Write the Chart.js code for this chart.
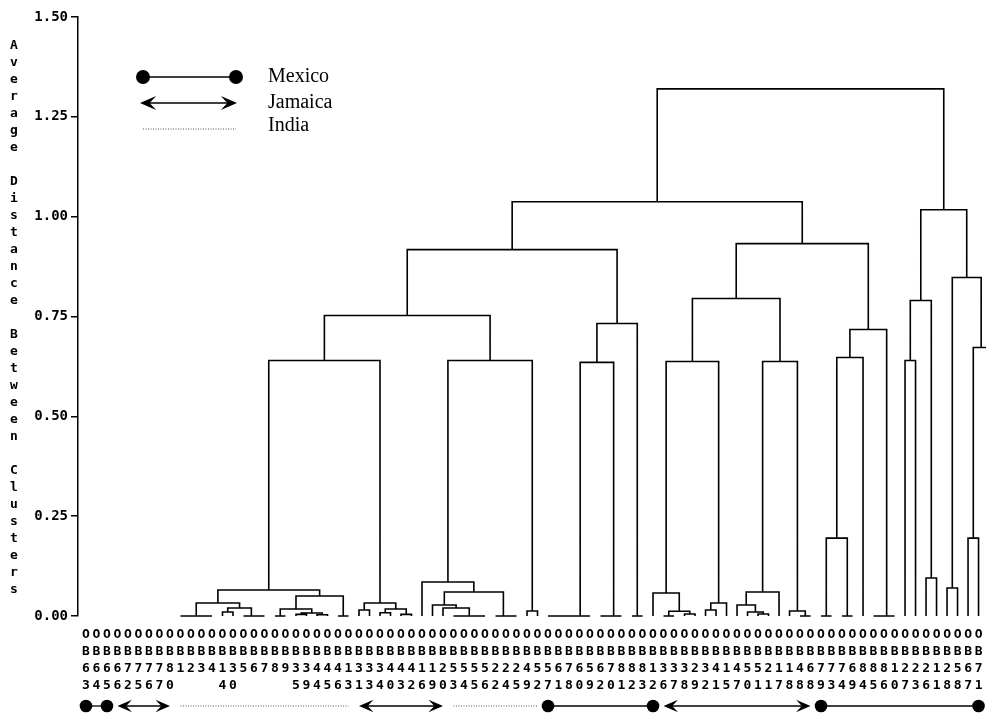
<!DOCTYPE html>
<html>
<head>
<meta charset="utf-8">
<title>Average Distance Between Clusters</title>
<script src="https://cdn.jsdelivr.net/npm/chart.js@4.4.1/dist/chart.umd.min.js"></script>
<style>
  html, body { margin: 0; padding: 0; background: #fff; overflow: hidden; }
  canvas { display: block; }
</style>
</head>
<body>
<canvas id="dendro" width="986" height="717"></canvas>
<script>
// observation number under each leaf, left to right (the last one runs off the page)
const obsIds = [63, 64, 65, 66, 72, 75, 76, 77, 80, 1, 2, 3, 4, 14, 30, 5, 6, 7, 8, 9,
  35, 39, 44, 45, 46, 13, 31, 33, 34, 40, 43, 42, 16, 19, 20, 53, 54, 55, 56, 22,
  24, 25, 49, 52, 57, 61, 78, 60, 59, 62, 70, 81, 82, 83, 12, 36, 37, 38, 29, 32,
  41, 15, 47, 50, 51, 21, 17, 18, 48, 68, 79, 73, 74, 69, 84, 85, 86, 10, 27, 23,
  26, 11, 28, 58, 67, 71, 87];

const distanceTicks = [0, 0.25, 0.5, 0.75, 1.0, 1.25, 1.5];

// merges: [average distance, left, right]; plain numbers are leaf positions
const clusterA1 = [0.065,
  [0.0325, [0, [0, 9, 10], [0, 11, 12]], [0.02, [0.01, 13, 14], [0, 15, [0, 16, 17]]]],
  [0.05, [0.0175, [0, 18, 19], [0.0075, [0.004, 20, 21], [0.003, 22, 23]]], [0, 24, 25]]];
const clusterA2 = [0.0325, [0.015, 26, 27], [0.0175, [0.008, 28, 29], [0.004, 30, 31]]];
const clusterB1 = [0.085, 32,
  [0.06, [0.0275, 33, [0.02, 34, [0, [0, 35, 36], [0, 37, 38]]]], [0, 39, [0, 40, 41]]]];
const clusterB2 = [0.0125, 42, 43];
const clusterC1 = [0.635, [0, [0, [0, [0, 44, 45], 46], 47], 48], [0, [0, 49, 50], 51]];
const clusterC2 = [0, 52, 53];
const clusterD1 = [0.6375,
  [0.0575, 54, [0.012, [0, 55, 56], [0.005, 57, 58]]],
  [0.0325, [0.015, 59, 60], 61]];
const clusterD2 = [0.6375,
  [0.06, [0.0275, 62, [0.01, 63, [0.005, 64, 65]]], 66],
  [0.0125, 67, [0, 68, 69]]];
const clusterE = [0.7175, [0.6475, [0.195, [0, 70, 71], [0, 72, 73]], 74], [0, [0, 75, 76], 77]];
const clusterF = [1.0175,
  [0.79, [0.64, 78, 79], [0.095, 80, 81]],
  [0.8475, [0.07, 82, 83], [0.6725, [0.195, 84, 85], 86]]];

const tree = [1.32,
  [1.0375,
    [0.9175, [0.7525, [0.64, clusterA1, clusterA2], [0.64, clusterB1, clusterB2]], [0.7325, clusterC1, clusterC2]],
    [0.9325, [0.795, clusterD1, clusterD2], clusterE]],
  clusterF];

// country bands under the leaf labels (first and last leaf of each)
const groupNames = ['Mexico', 'Jamaica', 'India', 'Jamaica', 'India', 'Mexico', 'Jamaica', 'Mexico'];
const groupStart = [0, 3, 9, 26, 35, 44, 55, 70];
const groupEnd = [2, 8, 25, 34, 43, 54, 69, 85];

const legendNames = ['Mexico', 'Jamaica', 'India'];

// turn the tree into U shaped links, null breaks the line between links
const links = [];
function walk(node) {
  if (typeof node === 'number') return { x: node, h: 0 };
  const a = walk(node[1]);
  const b = walk(node[2]);
  links.push({ x: a.x, y: a.h }, { x: a.x, y: node[0] }, { x: b.x, y: node[0] }, { x: b.x, y: b.h }, { x: b.x, y: null });
  return { x: (a.x + b.x) / 2, h: node[0] };
}
walk(tree);

const mono = "'DejaVu Sans Mono', 'Liberation Mono', monospace";

function arrowHead(ctx, x, y, dir, r) {
  const len = r * 2.3;
  ctx.beginPath();
  ctx.moveTo(x, y);
  ctx.lineTo(x - dir * len, y - r);
  ctx.lineTo(x - dir * len * 0.6, y);
  ctx.lineTo(x - dir * len, y + r);
  ctx.closePath();
  ctx.fill();
}

function drawKey(ctx, kind, x1, x2, y, r) {
  ctx.save();
  ctx.strokeStyle = '#000';
  ctx.fillStyle = '#000';
  if (kind === 'India') {
    ctx.strokeStyle = '#555';
    ctx.lineWidth = 1;
    ctx.setLineDash([1, 1.5]);
    ctx.beginPath(); ctx.moveTo(x1, y); ctx.lineTo(x2, y); ctx.stroke();
  } else if (kind === 'Jamaica') {
    ctx.lineWidth = 1.6;
    ctx.beginPath(); ctx.moveTo(x1 + 5, y); ctx.lineTo(x2 - 5, y); ctx.stroke();
    arrowHead(ctx, x1, y, -1, r);
    arrowHead(ctx, x2, y, 1, r);
  } else {
    ctx.lineWidth = 1.3;
    ctx.beginPath(); ctx.moveTo(x1, y); ctx.lineTo(x2, y); ctx.stroke();
    [x1, x2].forEach(cx => {
      ctx.beginPath(); ctx.arc(cx, y, r, 0, Math.PI * 2); ctx.fill();
    });
  }
  ctx.restore();
}

const extras = {
  id: 'extras',
  afterDraw(chart) {
    const { ctx, scales: { x } } = chart;
    ctx.save();

    // y title, one upright letter per line, a blank line between words
    ctx.font = 'bold 13px ' + mono;
    ctx.fillStyle = '#000';
    ctx.textAlign = 'center';
    ctx.textBaseline = 'middle';
    [...'Average Distance Between Clusters'].forEach((ch, i) => {
      if (ch !== ' ') ctx.fillText(ch, 14, 46 + i * 17);
    });

    // legend
    const ly = [77, 103, 129];
    ctx.font = "20px 'Liberation Serif', 'DejaVu Serif', serif";
    ctx.textAlign = 'left';
    legendNames.forEach((name, i) => {
      drawKey(ctx, name, name === 'Jamaica' ? 140 : 143, name === 'Jamaica' ? 237 : 236, ly[i], 7);
      ctx.fillText(name, 268, i === 2 ? 126 : ly[i]);
    });

    // country bands
    groupNames.forEach((g, i) => {
      drawKey(ctx, g, x.getPixelForValue(groupStart[i]), x.getPixelForValue(groupEnd[i]), 706, 6.3);
    });
    ctx.restore();
  }
};

new Chart(document.getElementById('dendro'), {
  type: 'line',
  data: {
    datasets: [{
      label: 'Average Distance Between Clusters',
      data: links,
      borderColor: '#000',
      borderWidth: 1.6,
      pointRadius: 0,
      tension: 0,
      spanGaps: false,
      clip: false
    }]
  },
  options: {
    responsive: false,
    animation: false,
    devicePixelRatio: 1,
    layout: { padding: { top: 17, right: 0, bottom: 0, left: 0 } },
    plugins: { legend: { display: false }, tooltip: { enabled: false } },
    scales: {
      x: {
        type: 'linear',
        min: -0.76,
        max: 85.71,
        afterBuildTicks: s => {
          s.ticks = obsIds.map((_, i) => ({ value: i })).filter(t => t.value <= s.max);
        },
        afterFit: s => {
          s.height = 101;
          s.paddingLeft = 0;
          s.paddingRight = 0;
        },
        grid: { display: false, drawTicks: false },
        border: { display: false },
        ticks: {
          autoSkip: false,
          maxRotation: 0,
          minRotation: 0,
          padding: 10,
          color: '#000',
          font: { family: mono, size: 13, weight: 'bold', lineHeight: 1.31 },
          callback: v => {
            const s = String(obsIds[v]);
            return ['O', 'B', s[0], s[1] || ''];
          }
        }
      },
      y: {
        min: 0,
        max: 1.5,
        afterBuildTicks: s => { s.ticks = distanceTicks.map(v => ({ value: v })); },
        afterFit: s => { s.width = 78; },
        grid: { drawOnChartArea: false, drawTicks: true, tickLength: 7, color: '#000', lineWidth: 1.5 },
        border: { color: '#000', width: 1.5 },
        ticks: {
          padding: 3,
          color: '#000',
          font: { family: mono, size: 14, weight: 'bold' },
          callback: v => v.toFixed(2)
        }
      }
    }
  },
  plugins: [extras]
});
</script>
</body>
</html>
